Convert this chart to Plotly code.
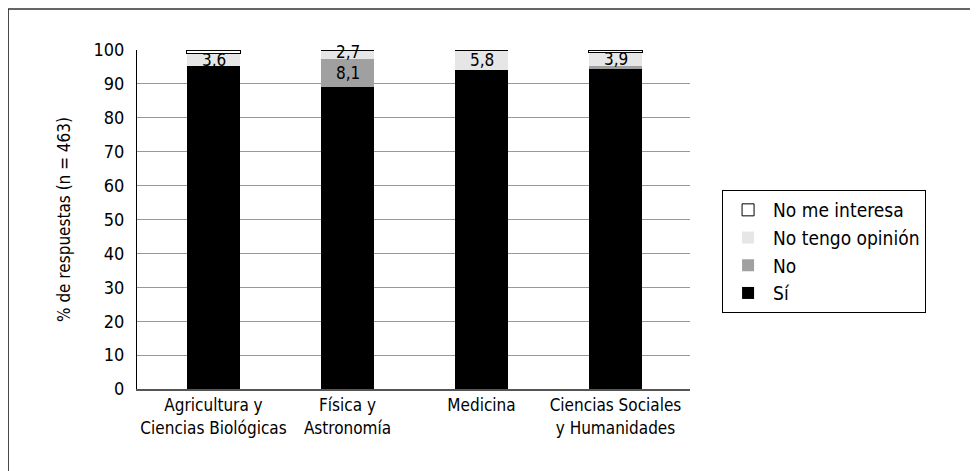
import plotly.graph_objects as go

categories = ["Agricultura y<br>Ciencias Biológicas", "Física y<br>Astronomía", "Medicina", "Ciencias Sociales<br>y Humanidades"]
si = [95.3, 89.2, 94.2, 94.3]
no = [0.0, 8.1, 0.0, 1.0]
no_opinion = [3.6, 2.7, 5.8, 3.9]
no_interesa = [1.1, 0.0, 0.0, 0.8]
y_ticks = [0, 10, 20, 30, 40, 50, 60, 70, 80, 90, 100]

FONT = "DejaVu Sans Condensed, Liberation Sans Narrow, Roboto, sans-serif"

fig = go.Figure()
fig.add_trace(go.Bar(name="Sí", x=categories, y=si, marker=dict(color="#000000", line=dict(width=0))))
fig.add_trace(go.Bar(name="No", x=categories, y=no, marker=dict(color="#a0a0a0", line=dict(width=0))))
fig.add_trace(go.Bar(name="No tengo opinión", x=categories, y=no_opinion, marker=dict(color="#e6e6e6", line=dict(width=0))))
fig.add_trace(go.Bar(name="No me interesa", x=categories, y=no_interesa, marker=dict(color="#ffffff", line=dict(width=1, color="#000000"))))

def fmt(v):
    return f"{v:.1f}".replace(".", ",")

annotations = []
for i, c in enumerate(categories):
    mid = si[i] + no[i] + no_opinion[i] / 2
    shift = 3 if no[i] >= 2 else 0
    annotations.append(dict(x=c, y=mid, text=fmt(no_opinion[i]), showarrow=False, yshift=shift,
                            font=dict(size=17, color="#000000", family=FONT), yanchor="middle"))
    if no[i] >= 2:
        top = si[i] + no[i]
        annotations.append(dict(x=c, y=top, text=fmt(no[i]), showarrow=False, yshift=-2,
                                font=dict(size=17, color="#000000", family=FONT), yanchor="top"))

fig.update_layout(
    barmode="stack",
    bargap=0.6,
    width=978, height=471,
    margin=dict(l=129, r=296, t=42, b=90),
    paper_bgcolor="white", plot_bgcolor="white",
    font=dict(family=FONT, size=17, color="#000000"),
    separators=",.",
    annotations=annotations,
    legend=dict(traceorder="reversed", x=1.058, y=0.587, xanchor="left", yanchor="top",
                bordercolor="#000000", borderwidth=1, bgcolor="white",
                font=dict(size=19, family=FONT), tracegroupgap=0, itemwidth=40),
    shapes=[dict(type="rect", xref="paper", yref="paper", x0=-0.233, x1=1.53, y0=-0.26, y1=1.121,
                 line=dict(color="#333333", width=1.5), fillcolor="rgba(0,0,0,0)", layer="below")],
)
fig.update_xaxes(range=[-0.571, 3.556], showline=True, linecolor="#555555", linewidth=2,
                 ticks="", showgrid=False, tickfont=dict(size=17, family=FONT))
fig.update_yaxes(range=[0, 100], tickvals=y_ticks, showline=True, linecolor="#000000", linewidth=1,
                 showgrid=True, gridcolor="#999999", gridwidth=1, ticks="", ticklabelstandoff=8,
                 zeroline=False, tickfont=dict(size=18, family=FONT),
                 title=dict(text="% de respuestas (n = 463)", font=dict(size=17, family=FONT), standoff=18))

fig.write_html("out.html")
